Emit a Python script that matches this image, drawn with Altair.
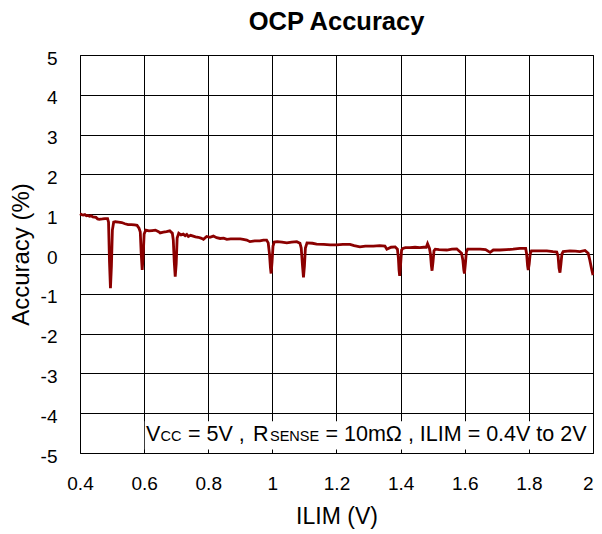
import altair as alt
import pandas as pd

# ---- data: (ILIM in V, accuracy in %) ----
points = [
    (0.400, 1.01), (0.405, 0.99), (0.410, 0.98), (0.415, 0.99), (0.420, 0.96),
    (0.425, 0.97), (0.430, 0.95), (0.435, 0.96), (0.440, 0.93), (0.450, 0.92),
    (0.455, 0.88), (0.460, 0.87), (0.470, 0.88), (0.478, 0.89), (0.486, 0.89),
    (0.489, 0.80), (0.492, -0.20), (0.495, -0.86), (0.498, -0.30), (0.501, 0.60),
    (0.505, 0.80), (0.510, 0.81), (0.520, 0.80), (0.530, 0.79), (0.540, 0.76),
    (0.550, 0.74), (0.560, 0.74), (0.570, 0.73), (0.578, 0.72), (0.584, 0.65),
    (0.588, 0.55), (0.591, 0.00), (0.594, -0.40), (0.597, -0.05), (0.600, 0.50),
    (0.605, 0.60), (0.615, 0.58), (0.625, 0.59), (0.635, 0.60), (0.645, 0.56),
    (0.650, 0.53), (0.660, 0.55), (0.670, 0.56), (0.680, 0.58), (0.688, 0.52),
    (0.691, 0.35), (0.694, -0.20), (0.697, -0.57), (0.700, -0.25), (0.703, 0.40),
    (0.708, 0.52), (0.715, 0.48), (0.722, 0.50), (0.728, 0.46), (0.733, 0.49),
    (0.738, 0.44), (0.745, 0.47), (0.753, 0.45), (0.760, 0.43), (0.769, 0.42),
    (0.777, 0.40), (0.785, 0.37), (0.795, 0.44), (0.805, 0.42), (0.816, 0.45),
    (0.826, 0.41), (0.837, 0.39), (0.848, 0.40), (0.858, 0.37), (0.870, 0.38),
    (0.885, 0.38), (0.900, 0.38), (0.909, 0.37), (0.920, 0.35), (0.930, 0.31),
    (0.945, 0.33), (0.961, 0.33), (0.972, 0.35), (0.982, 0.35), (0.987, 0.28),
    (0.991, 0.00), (0.994, -0.35), (0.996, -0.49), (0.999, -0.20), (1.002, 0.20),
    (1.006, 0.30), (1.015, 0.31), (1.030, 0.30), (1.045, 0.28), (1.060, 0.30),
    (1.076, 0.31), (1.086, 0.27), (1.090, 0.15), (1.094, -0.30), (1.097, -0.59),
    (1.100, -0.30), (1.103, 0.15), (1.108, 0.28), (1.125, 0.27), (1.138, 0.25),
    (1.160, 0.24), (1.180, 0.23), (1.201, 0.23), (1.220, 0.24), (1.242, 0.24),
    (1.255, 0.21), (1.273, 0.18), (1.290, 0.20), (1.315, 0.20), (1.335, 0.21),
    (1.351, 0.20), (1.357, 0.12), (1.370, 0.17), (1.383, 0.18), (1.390, 0.12),
    (1.393, -0.10), (1.395, -0.40), (1.397, -0.55), (1.400, -0.25), (1.403, 0.10),
    (1.407, 0.14), (1.415, 0.16), (1.429, 0.16), (1.445, 0.17), (1.460, 0.16),
    (1.472, 0.17), (1.480, 0.17), (1.484, 0.26), (1.490, 0.14), (1.493, 0.00),
    (1.496, -0.30), (1.498, -0.42), (1.501, -0.20), (1.504, 0.08), (1.508, 0.12),
    (1.520, 0.11), (1.544, 0.10), (1.560, 0.12), (1.575, 0.13), (1.590, 0.02),
    (1.594, -0.15), (1.597, -0.40), (1.599, -0.49), (1.602, -0.25), (1.605, 0.05),
    (1.609, 0.12), (1.625, 0.12), (1.648, 0.12), (1.665, 0.11), (1.679, 0.04),
    (1.689, 0.10), (1.710, 0.10), (1.730, 0.11), (1.751, 0.12), (1.772, 0.14),
    (1.790, 0.14), (1.793, 0.00), (1.796, -0.30), (1.798, -0.40), (1.801, -0.25),
    (1.804, 0.00), (1.808, 0.08), (1.830, 0.08), (1.856, 0.08), (1.875, 0.06),
    (1.887, 0.05), (1.891, -0.05), (1.894, -0.35), (1.897, -0.47), (1.900, -0.25),
    (1.903, 0.00), (1.907, 0.06), (1.928, 0.08), (1.945, 0.07), (1.959, 0.06),
    (1.975, 0.09), (1.985, 0.02), (1.990, -0.15), (1.995, -0.35), (2.000, -0.53),
]
ilim = [p[0] for p in points]
accuracy = [p[1] for p in points]

x_ticks = [0.4, 0.6, 0.8, 1, 1.2, 1.4, 1.6, 1.8, 2]
y_ticks = [-5, -4, -3, -2, -1, 0, 1, 2, 3, 4, 5]

note_parts = ["V", "CC", "= 5V ,", "R", "SENSE", "= 10mΩ , ILIM = 0.4V to 2V"]
note_small = [False, True, False, False, True, False]

# annotation box extent (data units)
box_x = [0.602, 2.0]
box_y = [-4.2, -4.91]

FONT = "Liberation Sans"
W, H = 513, 398

df = pd.DataFrame({"ilim": ilim, "acc": accuracy})

xscale = alt.Scale(domain=[0.4, 2.0], nice=False, zero=False)
yscale = alt.Scale(domain=[-5, 5], nice=False, zero=False)

line = alt.Chart(df).mark_line(color="#8B0000", strokeWidth=2.8).encode(
    x=alt.X("ilim:Q", scale=xscale, title="ILIM (V)",
            axis=alt.Axis(values=x_ticks, tickCount=20, labelExpr="'' + datum.value",
                          ticks=False, domain=False, grid=True,
                          gridColor="#000", gridWidth=1,
                          labelFont=FONT, labelFontSize=19, labelColor="#000",
                          labelAlign=alt.ExprRef(expr="datum.value >= 2 ? 'right' : 'center'"),
                          labelPadding=21, labelFlush=False, labelOverlap=False,
                          titleFont=FONT, titleFontSize=23, titleFontWeight="normal",
                          titleColor="#000", titlePadding=12)),
    y=alt.Y("acc:Q", scale=yscale, title="Accuracy (%)",
            axis=alt.Axis(values=y_ticks, tickCount=20, labelExpr="'' + datum.value",
                          ticks=False, domain=False, grid=True,
                          gridColor="#000", gridWidth=1,
                          labelFont=FONT, labelFontSize=19, labelColor="#000",
                          labelPadding=23, labelOffset=3, labelFlush=False,
                          labelOverlap=False,
                          titleFont=FONT, titleFontSize=24, titleFontWeight="normal",
                          titleColor="#000", titlePadding=7)),
)

box_df = pd.DataFrame({"x": [box_x[0]], "x2": [box_x[1]], "y": [box_y[0]], "y2": [box_y[1]]})
box = alt.Chart(box_df).mark_rect(color="white", opacity=1).encode(
    x=alt.X("x:Q", scale=xscale), x2="x2:Q",
    y=alt.Y("y:Q", scale=yscale), y2="y2:Q",
)

# annotation segments (pixel offsets inside the plot)
seg_x = [66, 80.5, 108, 173, 190, 245.5]
texts = []
one = pd.DataFrame({"a": [0]})
for t, small, px in zip(note_parts, note_small, seg_x):
    texts.append(
        alt.Chart(one).mark_text(
            text=t, align="left", baseline="alphabetic", font=FONT,
            fontSize=14.5 if small else 21.5, color="#000",
        ).encode(x=alt.value(px), y=alt.value(386.3))
    )

chart = alt.layer(line, box, *texts).properties(
    width=W, height=H,
    title=alt.Title("OCP Accuracy", font=FONT, fontSize=25.5, fontWeight="bold",
                    color="#000", anchor="middle", offset=14),
    autosize=alt.AutoSizeParams(type="none"),
    padding={"left": 72, "top": 47, "right": 1, "bottom": 78},
).configure(background="white").configure_view(stroke="#000", strokeWidth=1)

chart.save("out.html", embed_options={"renderer": "svg", "actions": False})
